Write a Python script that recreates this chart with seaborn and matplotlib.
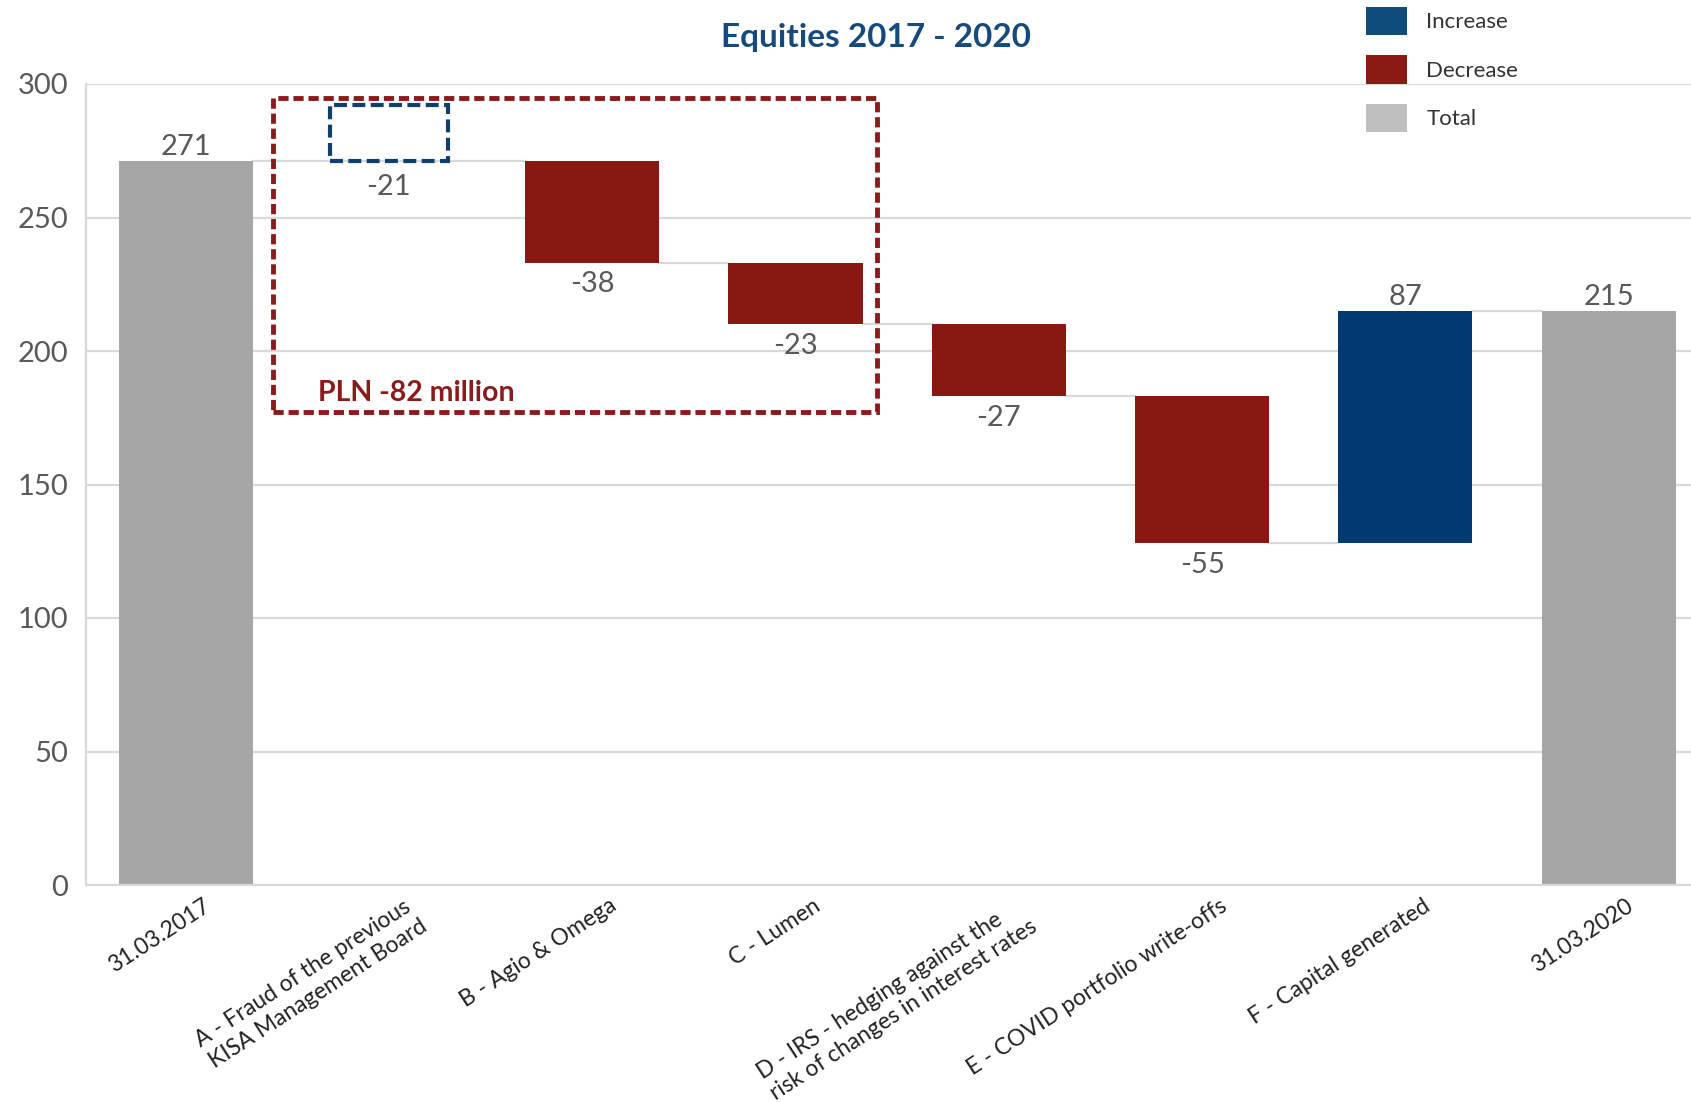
import numpy as np
import matplotlib
matplotlib.use("Agg")
import matplotlib.pyplot as plt
import matplotlib.transforms as mtrans
from matplotlib.patches import Patch, Rectangle
import seaborn as sns

# ---------------- data ----------------
categories = [
    "31.03.2017",
    "A - Fraud of the previous\nKISA Management Board",
    "B - Agio & Omega",
    "C - Lumen",
    "D - IRS - hedging against the\nrisk of changes in interest rates",
    "E - COVID portfolio write-offs",
    "F - Capital generated",
    "31.03.2020",
]
values = [271, -21, -38, -23, -27, -55, 87, 215]
kinds = ["Total", "Excluded", "Decrease", "Decrease", "Decrease", "Decrease", "Increase", "Total"]
value_labels = ["271", "-21", "-38", "-23", "-27", "-55", "87", "215"]
legend_labels = ["Increase", "Decrease", "Total"]
y_ticks = [0, 50, 100, 150, 200, 250, 300]
title = "Equities 2017 - 2020"
group_note = "PLN -82 million"

# ---------------- colours ----------------
C_TOTAL = "#A6A6A6"
C_DEC = "#8A1812"
C_INC = "#003A70"
C_GRID = "#D9D9D9"
C_TEXT = "#595959"
C_TITLE = "#174A7C"
LEG_COL = {"Increase": "#0E4C7C", "Decrease": "#8B1A14", "Total": "#BFBFBF"}
BAR_COL = {"Total": C_TOTAL, "Decrease": C_DEC, "Increase": C_INC, "Excluded": "none"}

# ---------------- waterfall geometry from values ----------------
bottoms, heights = [], []
level = 0.0
for v, k in zip(values, kinds):
    if k == "Total":
        bottoms.append(0.0); heights.append(v); level = v
    elif k == "Excluded":
        bottoms.append(level); heights.append(abs(v))
    elif k == "Decrease":
        bottoms.append(level + v); heights.append(-v); level += v
    else:
        bottoms.append(level); heights.append(v); level += v

sns.set_theme(style="white")
plt.rcParams["font.family"] = ["Lato", "DejaVu Sans"]

fig = plt.figure(figsize=(16.91, 11.02), dpi=100)
ax = fig.add_axes([86 / 1691, 1 - 885 / 1102, 1 - 86 / 1691, (885 - 84) / 1102])

bar_w = 0.66
sns.barplot(x=list(range(len(categories))), y=heights, bottom=bottoms, ax=ax,
            width=bar_w, color=C_TOTAL, order=list(range(len(categories))),
            native_scale=False, errorbar=None, linewidth=0)

box_w = 0.58
for i, (patch, k) in enumerate(zip(ax.patches, kinds)):
    patch.set_zorder(2)
    if k == "Excluded":
        patch.set_x(i - box_w / 2)
        patch.set_width(box_w)
        patch.set_facecolor("none")
        patch.set_edgecolor("#0E3F6E")
        patch.set_linewidth(3.0)
        patch.set_linestyle((0, (3.1, 1.3)))
    else:
        patch.set_facecolor(BAR_COL[k])
        patch.set_edgecolor(BAR_COL[k])

ax.set_ylim(0, 300)
ax.set_xlim(-0.49, 7.405)
ax.set_yticks(y_ticks)
ax.yaxis.grid(True, color=C_GRID, linewidth=1.6)
ax.set_axisbelow(True)
for s in ["top", "right"]:
    ax.spines[s].set_visible(False)
for s in ["left", "bottom"]:
    ax.spines[s].set_color(C_GRID)
    ax.spines[s].set_linewidth(1.6)
ax.tick_params(axis="y", length=0, pad=13, labelsize=21, labelcolor=C_TEXT)
ax.tick_params(axis="x", length=0, pad=0, labelsize=16.5, labelcolor="#222222")
ax.set_xlabel("")
ax.set_ylabel("")

ax.set_xticks(range(len(categories)))
ax.set_xticklabels(categories, rotation=33, ha="right", va="top",
                   rotation_mode="anchor", multialignment="left")
off = mtrans.ScaledTranslation(0.17, -0.1, fig.dpi_scale_trans)
for lbl in ax.get_xticklabels():
    lbl.set_transform(lbl.get_transform() + off)

# connectors
tops = [b + h for b, h in zip(bottoms, heights)]
level = 0.0
conn_levels = []
for i, (v, k) in enumerate(zip(values, kinds)):
    if k == "Total":
        level = v
    elif k == "Decrease" or k == "Increase":
        level += v
    conn_levels.append(level)
i = 0
n = len(categories)
while i < n - 1:
    j = i + 1
    while kinds[j] == "Excluded":
        j += 1
    ax.plot([i + bar_w / 2, j - bar_w / 2], [conn_levels[i]] * 2,
            color=C_GRID, linewidth=1.6, zorder=1)
    i = j

# value labels
for i, (lab, k) in enumerate(zip(value_labels, kinds)):
    if k in ("Total", "Increase"):
        ax.annotate(lab, (i, tops[i]), xytext=(0, 1), textcoords="offset points",
                    ha="center", va="bottom", fontsize=21, color=C_TEXT)
    else:
        dy = -9 if k == "Excluded" else -6
        ax.annotate(lab, (i, bottoms[i]), xytext=(0, dy), textcoords="offset points",
                    ha="center", va="top", fontsize=21, color=C_TEXT)

# group box
ax.add_patch(Rectangle((0.43, 177.0), 3.40 - 0.43, 294.8 - 177.0, fill=False,
                       edgecolor="#8B1A1A", linewidth=3.5,
                       linestyle=(0, (2.1, 1.0)), zorder=5, clip_on=False))
ax.text(0.652, 184.3, group_note, color="#8B1A1A", fontsize=20.5, fontweight="bold",
        ha="left", va="center")

fig.text(0.518, 0.966, title, ha="center", va="center", fontsize=24,
         fontweight="bold", color=C_TITLE)

handles = [Patch(facecolor=LEG_COL[l], edgecolor="none", label=l) for l in legend_labels]
fig.legend(handles=handles, loc="upper left", bbox_to_anchor=(0.808, 0.994),
           frameon=False, fontsize=16, handlelength=1.85, handleheight=1.6,
           labelspacing=0.9, handletextpad=0.85, borderpad=0, borderaxespad=0,
           labelcolor="#333333")

fig.savefig("out.png", dpi=100)
